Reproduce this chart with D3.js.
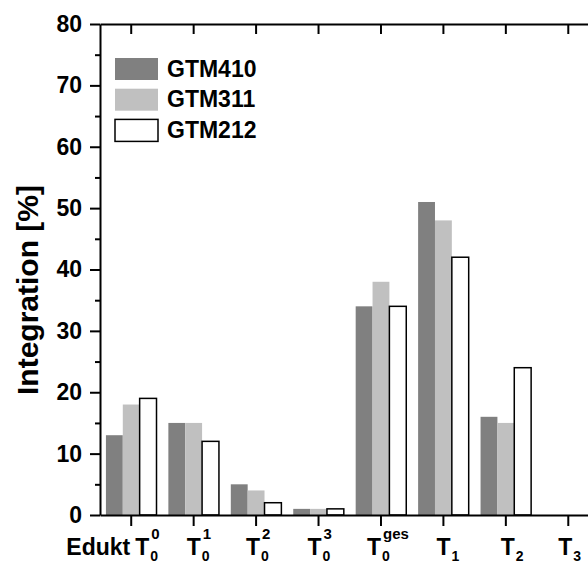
<!DOCTYPE html>
<html>
<head>
<meta charset="utf-8">
<script src="https://cdn.jsdelivr.net/npm/d3@7"></script>
<style>
  body { margin: 0; overflow: hidden; background: #fff; }
  svg { display: block; font-family: "Liberation Sans", Arial, sans-serif; font-weight: bold; }
  .axis path, .axis line { stroke: #000; stroke-width: 2; }
  .axis text { font-size: 23px; font-weight: bold; fill: #000; font-family: "Liberation Sans", Arial, sans-serif; }
</style>
</head>
<body>
<svg width="588" height="565"></svg>
<script>
// categories: main letter, superscript, subscript, prefix
var categories = ["Edukt T00", "T01", "T02", "T03", "T0ges", "T1", "T2", "T3"];
var labelPrefix = ["Edukt", "", "", "", "", "", "", ""];
var labelSup = ["0", "1", "2", "3", "ges", "", "", ""];
var labelSub = ["0", "0", "0", "0", "0", "1", "2", "3"];

var series = ["GTM410", "GTM311", "GTM212"];
var gtm410 = [13, 15, 5, 1, 34, 51, 16, null];
var gtm311 = [18, 15, 4, 1, 38, 48, 15, null];
var gtm212 = [19, 12, 2, 1, 34, 42, 24, null];
var yTicks = [0, 10, 20, 30, 40, 50, 60, 70, 80];
var yMinorTicks = [5, 15, 25, 35, 45, 55, 65, 75];

var values = [gtm410, gtm311, gtm212];

var svg = d3.select("svg"),
    margin = {top: 24, left: 100},
    plotRight = 599.5,
    plotBottom = 515;

var x0 = d3.scaleBand().domain(categories)
    .range([margin.left, plotRight]).paddingInner(0.19).paddingOuter(0.095);
var x1 = d3.scaleBand().domain(series).range([0, x0.bandwidth()]);
var y = d3.scaleLinear().domain([0, 80]).range([plotBottom, margin.top]);

var fills = d3.scaleOrdinal().domain(series).range(["#808080", "#c0c0c0", "#ffffff"]);
var strokes = d3.scaleOrdinal().domain(series).range(["none", "none", "#000"]);

// bars
var rows = [];
categories.forEach(function(c, i) {
    series.forEach(function(s, j) {
        if (values[j][i] != null) rows.push({cat: c, s: s, v: values[j][i]});
    });
});

svg.append("g").selectAll("rect")
    .data(rows)
  .enter().append("rect")
    .attr("x", function(d) { return x0(d.cat) + x1(d.s); })
    .attr("y", function(d) { return y(d.v); })
    .attr("width", x1.bandwidth())
    .attr("height", function(d) { return y(0) - y(d.v); })
    .attr("fill", function(d) { return fills(d.s); })
    .attr("stroke", function(d) { return strokes(d.s); })
    .attr("stroke-width", 1.5);

// axes
svg.append("g")
    .attr("class", "axis")
    .attr("transform", "translate(" + margin.left + ",0)")
    .call(d3.axisLeft(y).tickValues(yTicks).tickSize(10).tickSizeOuter(0).tickPadding(8));

svg.append("g")
    .attr("class", "axis")
    .attr("transform", "translate(" + margin.left + ",0)")
    .call(d3.axisLeft(y).tickValues(yMinorTicks).tickSize(5).tickSizeOuter(0).tickFormat(""))
    .select(".domain").remove();

svg.append("g")
    .attr("class", "axis")
    .attr("transform", "translate(0," + plotBottom + ")")
    .call(d3.axisBottom(x0).tickSize(11).tickSizeOuter(0).tickFormat(""));

svg.append("g")
    .attr("class", "axis")
    .attr("transform", "translate(0," + margin.top + ")")
    .call(d3.axisTop(x0).tickSize(-10).tickSizeOuter(0).tickFormat(""));

// x labels: big T centred near tick, scripts stacked to its right
var tDx = [11, 0, -3, -4, -7, 0, 2, -3];
var xl = svg.append("g");
categories.forEach(function(c, i) {
    var cx = x0(c) + x0.bandwidth() / 2 + tDx[i];
    xl.append("text").attr("x", cx).attr("y", 555)
        .attr("text-anchor", "middle").style("font-size", "23px").text("T");
    if (labelPrefix[i])
        xl.append("text").attr("x", cx - 12).attr("y", 555)
            .attr("text-anchor", "end").style("font-size", "23px").text(labelPrefix[i]);
    if (labelSup[i])
        xl.append("text").attr("x", cx + 9).attr("y", 539)
            .style("font-size", "15px").text(labelSup[i]);
    if (labelSub[i])
        xl.append("text").attr("x", cx + 8).attr("y", 561)
            .style("font-size", "14px").text(labelSub[i]);
});

// y title
svg.append("text")
    .attr("transform", "translate(38,290) rotate(-90)")
    .attr("text-anchor", "middle")
    .style("font-size", "30px")
    .text("Integration [%]");

// legend
var legend = svg.append("g").selectAll("g")
    .data(series)
  .enter().append("g")
    .attr("transform", function(d, i) { return "translate(115," + (58 + i * 30.7) + ")"; });

legend.append("rect")
    .attr("width", 43).attr("height", 22)
    .attr("fill", function(d) { return fills(d); })
    .attr("stroke", function(d) { return strokes(d); })
    .attr("stroke-width", 1.5);

legend.append("text")
    .attr("x", 52).attr("y", 18.5)
    .style("font-size", "23px")
    .text(function(d) { return d; });
</script>
</body>
</html>
